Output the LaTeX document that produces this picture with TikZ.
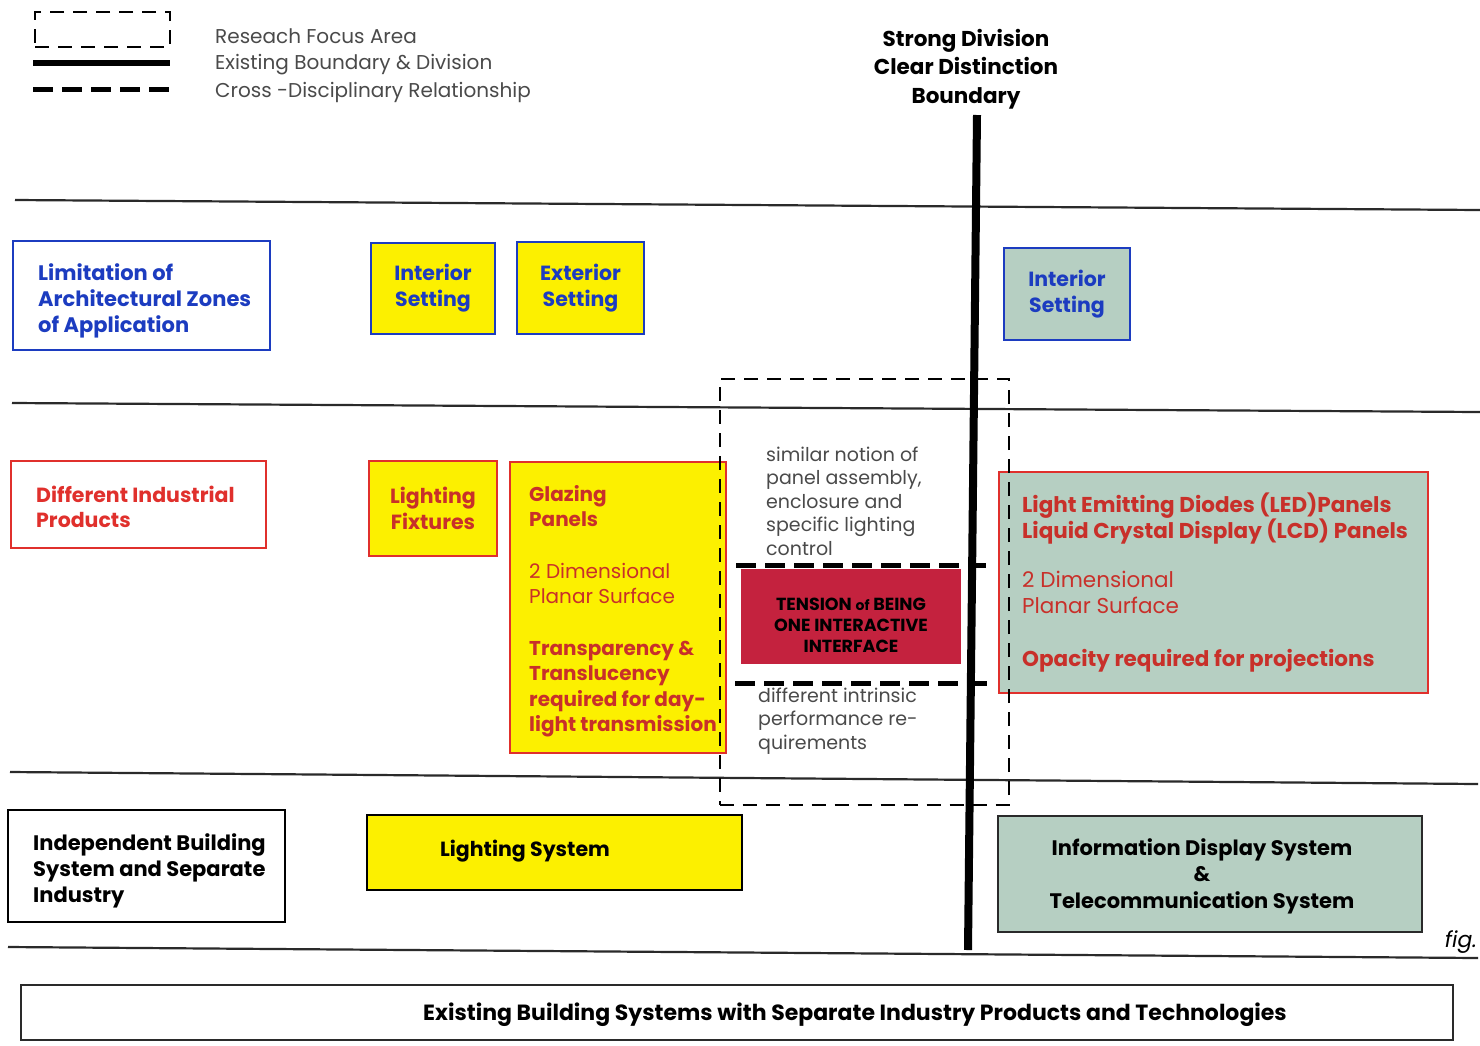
\documentclass[tikz,border=0pt]{standalone}
\usepackage{fontspec}
\setmainfont{Poppins}
\definecolor{fyellow}{HTML}{FCF000}
\definecolor{fred}{HTML}{E0302C}
\definecolor{tred}{HTML}{C8302A}
\definecolor{fblue}{HTML}{1C3CC0}
\definecolor{fgreen}{HTML}{B6CFC2}
\definecolor{fcrim}{HTML}{C4223E}
\definecolor{lgray}{HTML}{4A4A4A}
\definecolor{rule}{HTML}{2A2A2A}
\begin{document}
\begin{tikzpicture}[x=1pt,y=-1pt,
  box/.style={draw, rectangle, line width=2pt, inner sep=0pt},
  txt/.style={font=\fontsize{21}{26}\selectfont\bfseries, align=left, inner sep=0pt},
  ctxt/.style={font=\fontsize{20.5}{26}\selectfont\bfseries, align=center, inner sep=0pt},
  ltxt/.style={font=\fontsize{20}{27}\selectfont, align=left, inner sep=0pt, text=lgray},
  note/.style={font=\fontsize{19}{23.5}\selectfont, align=left, inner sep=0pt, text=lgray},
  hline/.style={line width=2.2pt, draw=rule},
  cross/.style={line width=5pt, dash pattern=on 20pt off 9pt},
  focus/.style={line width=2pt, dash pattern=on 14pt off 9pt}]
\useasboundingbox (0,0) rectangle (1480,1045);
\fill[white] (0,0) rectangle (1480,1045);

% legend
\node[focus, draw, rectangle, minimum width=135, minimum height=35, inner sep=0pt] (lgbox) at (102.5,29.5) {};
\coordinate (lg1a) at (33,63); \coordinate (lg1b) at (170,63);
\coordinate (lg2a) at (33,89); \coordinate (lg2b) at (170,89);
\draw[line width=6pt] (lg1a) -- (lg1b);
\draw[cross] (lg2a) -- (lg2b);
\node[ltxt, anchor=west] (lgt1) at (215,36) {Reseach Focus Area};
\node[ltxt, anchor=west] (lgt2) at (215,65) {Existing Boundary \& Division};
\node[ltxt, anchor=west] (lgt3) at (215,92) {Cross -Disciplinary Relationship};

% heading
\node[font=\fontsize{21.5}{28.5}\selectfont\bfseries, align=center, inner sep=0pt] (head) at (966,69) {Strong Division\\Clear Distinction\\Boundary};

% horizontal rules
\coordinate (h1a) at (15,200); \coordinate (h1b) at (1480,210);
\coordinate (h2a) at (12,403); \coordinate (h2b) at (1480,412);
\coordinate (h3a) at (10,772); \coordinate (h3b) at (1478,784);
\coordinate (h4a) at (8,947);  \coordinate (h4b) at (1478,958);
\draw[hline] (h1a) -- (h1b);
\draw[hline] (h2a) -- (h2b);
\draw[hline] (h3a) -- (h3b);
\draw[hline] (h4a) -- (h4b);

% row 1
\node[box, draw=fblue, minimum width=257, minimum height=109] (lim) at (141.5,295.5) {};
\node[txt, anchor=west, text=fblue] (limt) at (38,301) {Limitation of\\Architectural Zones\\of Application};
\node[box, draw=fblue, fill=fyellow, minimum width=124, minimum height=91, ctxt, text=fblue] (int1) at (433,288) {Interior\\Setting};
\node[box, draw=fblue, fill=fyellow, minimum width=127, minimum height=92, ctxt, text=fblue] (ext) at (580.5,288) {Exterior\\Setting};
\node[box, draw=fblue, fill=fgreen, minimum width=126, minimum height=92, ctxt, text=fblue] (int2) at (1067,294) {Interior\\Setting};

% row 2
\node[box, draw=fred, minimum width=255, minimum height=87] (dip) at (138.5,504.5) {};
\node[txt, anchor=west, text=fred, font=\fontsize{20.5}{25}\selectfont\bfseries] (dipt) at (36,507) {Different Industrial\\Products};
\node[box, draw=fred, fill=fyellow, minimum width=128, minimum height=95, ctxt, text=tred] (lf) at (433,508.5) {Lighting\\Fixtures};
\node[box, draw=fred, fill=fyellow, minimum width=216, minimum height=291] (glz) at (618,607.5) {};
\node[txt, anchor=west, text=tred, font=\fontsize{20}{25.5}\selectfont\bfseries] (glzt) at (529,611) {Glazing\\Panels\\[26pt]{\mdseries 2 Dimensional}\\{\mdseries Planar Surface}\\[26pt]Transparency \&\\Translucency\\required for day-\\light transmission};
\node[box, draw=fcrim, fill=fcrim, minimum width=218, minimum height=93] (ten) at (851,616.5) {};
\node[font=\fontsize{17.5}{21}\selectfont\bfseries, align=center, inner sep=0pt] (tent) at (851,625) {TENSION {\fontsize{14}{21}\selectfont of} BEING\\ONE INTERACTIVE\\INTERFACE};
\node[box, draw=fred, fill=fgreen, minimum width=429, minimum height=221] (led) at (1213.5,582.5) {};
\node[txt, anchor=west, text=tred, font=\fontsize{21.5}{26}\selectfont\bfseries] (ledt) at (1022,583) {Light Emitting Diodes (LED)Panels\\Liquid Crystal Display (LCD) Panels\\[23pt]{\mdseries 2 Dimensional}\\{\mdseries Planar Surface}\\[27pt]Opacity required for projections};
\node[note, anchor=west] (sim) at (766,501) {similar notion of\\panel assembly,\\enclosure and\\specific lighting\\control};
\node[note, anchor=west] (diff) at (758,721) {different intrinsic\\performance re-\\quirements};

% row 3
\node[box, draw=black, minimum width=277, minimum height=112] (ibs) at (146.5,866) {};
\node[txt, anchor=west] (ibst) at (33,871) {Independent Building\\System and Separate\\Industry};
\node[box, draw=black, fill=fyellow, minimum width=375, minimum height=75] (ls) at (554.5,852.5) {};
\node[ctxt] (lst) at (525,851) {Lighting System};
\node[box, draw=rule, fill=fgreen, minimum width=424, minimum height=116] (ids) at (1210,874) {};
\node[ctxt, font=\fontsize{21}{26.5}\selectfont\bfseries] (idst) at (1202,876) {Information Display System\\\&\\Telecommunication System};

% research focus area
\node[focus, draw, rectangle, minimum width=289, minimum height=426, inner sep=0pt] (rfa) at (864,592) {};

% cross-disciplinary lines
\coordinate (c1a) at (736,565); \coordinate (c1b) at (986,565);
\coordinate (c2a) at (735,683); \coordinate (c2b) at (990,683);
\draw[cross] (c1a) -- (c1b);
\draw[cross] (c2a) -- (c2b);

% strong division
\coordinate (vt) at (977,115); \coordinate (vb) at (968,950);
\draw[line width=8pt] (vt) -- (vb);

% banner
\node[draw=rule, line width=1.5pt, rectangle, minimum width=1432, minimum height=55, inner sep=0pt] (ban) at (737,1012.5) {};
\node[ctxt, font=\fontsize{22}{26}\selectfont\bfseries] (bant) at (855,1015) {Existing Building Systems with Separate Industry Products and Technologies};
\node[font=\fontsize{22}{26}\selectfont\itshape, inner sep=0pt] (fig) at (1461,942) {fig.};
\end{tikzpicture}
\end{document}
